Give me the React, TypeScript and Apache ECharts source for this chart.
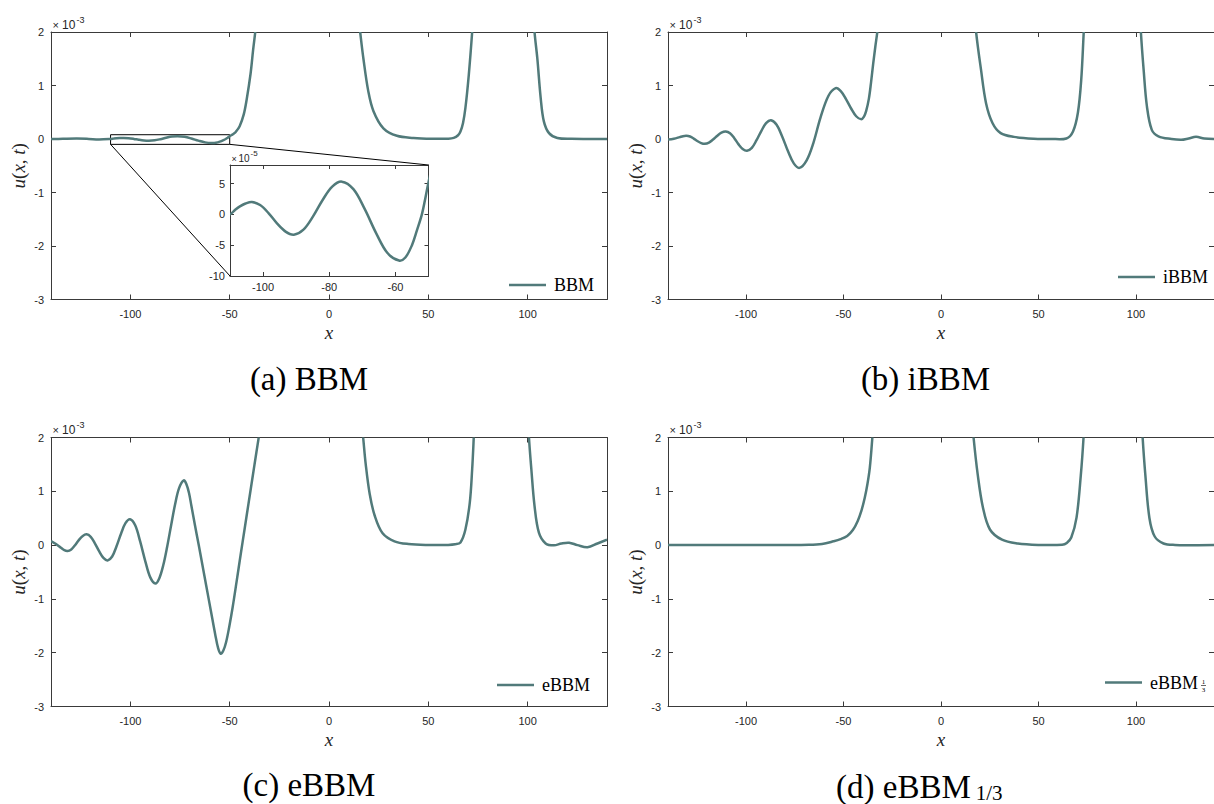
import React, { useEffect, useRef } from 'react';
import * as echarts from 'echarts';

// Solution profiles u(x,t), values in units of 1e-3
const bbmCurve: [number, number][] = [
  [-140, -0.002], [-134, 0.004], [-127, 0.009], [-121, 0.002], [-116, -0.008],
  [-110, 0], [-108.5, 0.007], [-107, 0.013], [-105.3, 0.0175], [-103.4, 0.02],
  [-100.9, 0.015], [-98.3, 0.0017], [-95.8, -0.0147], [-93.2, -0.028], [-90.7, -0.033],
  [-87.8, -0.0248], [-84.9, -0.0033], [-82, 0.0233], [-79.1, 0.0448], [-76.2, 0.053],
  [-72.7, 0.0408], [-69.3, 0.0088], [-65.8, -0.0308], [-62.4, -0.0628], [-58.9, -0.075],
  [-57, -0.07], [-55, -0.05], [-53.5, -0.026], [-52, 0], [-51, 0.025], [-50, 0.052],
  [-49, 0.075], [-48, 0.1], [-47, 0.13], [-45, 0.24], [-43, 0.45],
  [-41.5, 0.73], [-39.5, 1.22], [-38.2, 1.67], [-37, 2.05], [-35.5, 2.7], [-33, 3.9],
  [-28, 6.2], [-12, 9.6], [3, 7.6], [12, 3.4], [14.2, 2.5], [15.7, 2.0], [17.3, 1.51],
  [19.8, 0.89], [22.4, 0.52], [27.4, 0.2], [34.2, 0.06], [42.6, 0.02], [52, 0.005],
  [60, 0.006], [62.8, 0.02], [65, 0.07], [66.2, 0.14], [67.5, 0.3], [68.7, 0.58],
  [70.4, 1.2], [72.1, 2.0], [73.5, 2.8], [79, 5.6], [88, 6.6], [97, 5.2], [102.2, 2.7],
  [103.5, 2.0], [104.9, 1.51], [106.6, 0.77], [108.2, 0.33], [110.8, 0.11], [115, 0.02],
  [122, 0.003], [130, 0], [140, 0],
];

const ibbmCurve: [number, number][] = [
  [-140, -0.01], [-137, 0.005], [-134, 0.035], [-132.3, 0.053], [-130.6, 0.06],
  [-128.7, 0.046], [-126.8, 0.008], [-125, -0.038], [-123, -0.076], [-121.2, -0.09],
  [-119, -0.068], [-116.9, -0.011], [-114.7, 0.061], [-112.6, 0.118], [-110.4, 0.14],
  [-108.2, 0.106], [-106, 0.016], [-103.9, -0.096], [-101.7, -0.186], [-99.5, -0.22],
  [-97, -0.166], [-94.6, -0.023], [-92.1, 0.153], [-89.7, 0.296], [-87.2, 0.35],
  [-84.3, 0.265], [-81.4, 0.043], [-78.4, -0.233], [-75.5, -0.455], [-72.6, -0.54],
  [-68.9, -0.398], [-65.5, -0.08], [-61.8, 0.4], [-57.7, 0.808], [-54, 0.95],
  [-51.4, 0.895], [-48.8, 0.75], [-46.1, 0.57], [-43.5, 0.425], [-40.9, 0.37],
  [-39.5, 0.42], [-38.4, 0.52], [-37, 0.75], [-35.9, 1.05], [-34.8, 1.4], [-33.7, 1.72],
  [-32.5, 2.05], [-31.3, 2.5], [-26, 5.5], [-10, 9], [8, 6], [15.5, 3.0], [18, 2.0],
  [20.5, 1.3], [23.1, 0.67], [26.4, 0.3], [30.6, 0.11], [37.4, 0.04], [47.5, 0.005],
  [56, 0.002], [64.3, 0.01], [67.7, 0.14], [70.2, 0.49], [71.9, 1.1], [73.2, 2.0],
  [74.5, 2.9], [80, 5.5], [88, 6.6], [96, 5.2], [101.2, 2.9], [102.5, 2.0], [103.9, 1.3],
  [105.6, 0.61], [108.1, 0.17], [111.5, 0.05], [118.2, 0], [123.2, -0.015], [127, 0.01],
  [130.8, 0.04], [135, 0.01], [140, 0],
];

const ebbmCurve: [number, number][] = [
  [-140, 0.075], [-137.5, 0.02], [-135, -0.05], [-133.3, -0.095], [-131.7, -0.11],
  [-129.8, -0.08], [-127.9, -0.003], [-126, 0.093], [-124, 0.17], [-122.1, 0.2],
  [-120, 0.154], [-117.9, 0.033], [-115.7, -0.118], [-113.6, -0.239], [-111.5, -0.285],
  [-109.2, -0.212], [-107, -0.021], [-104.7, 0.216], [-102.5, 0.407], [-100.2, 0.48],
  [-97.6, 0.367], [-95.1, 0.068], [-92.5, -0.301], [-90, -0.6], [-87.4, -0.713],
  [-85.5, -0.62], [-83.5, -0.38], [-81.5, -0.03], [-79.5, 0.37], [-77.5, 0.76],
  [-75.5, 1.06], [-73.1, 1.205], [-71.8, 1.13], [-70.5, 0.97], [-69.3, 0.73],
  [-67.5, 0.37], [-65.6, 0], [-63.7, -0.38], [-61.8, -0.76], [-59.5, -1.22],
  [-57.3, -1.66], [-55.8, -1.92], [-54.5, -2.02], [-53.2, -1.96], [-51.8, -1.8],
  [-50.3, -1.53], [-48.5, -1.15], [-46.5, -0.67], [-44.5, -0.18], [-42.5, 0.3],
  [-40.5, 0.78], [-38.5, 1.26], [-36.5, 1.74], [-35.2, 2.05], [-34, 2.4], [-28, 5.3],
  [-12, 9], [5, 7], [14.5, 3.0], [17.2, 2.0], [18.5, 1.5],
  [20.5, 0.95], [23, 0.55], [27, 0.22], [33, 0.07], [40, 0.02], [50, 0.003], [60, 0.004],
  [63.5, 0.015], [66.2, 0.05], [68.7, 0.29], [70.9, 0.79], [72.1, 1.41], [72.9, 2.0],
  [74, 2.9], [80, 5.5], [88, 6.5], [96, 5.0], [99.8, 2.7], [100.7, 2.0], [101.9, 1.41],
  [103.5, 0.73], [105.7, 0.23], [109.1, 0.03], [113.3, -0.005], [117, 0.03],
  [120.9, 0.045], [125.1, 0], [130.2, -0.04], [135.2, 0.03], [140, 0.1],
];

const ebbm3Curve: [number, number][] = [
  [-140, 0], [-110, 0], [-80, 0.001], [-67.7, 0.005], [-61, 0.022], [-55.2, 0.07],
  [-51.5, 0.11], [-48.1, 0.17], [-45.2, 0.28], [-42.7, 0.45], [-40.8, 0.64], [-39.1, 0.88],
  [-37.7, 1.14], [-36.5, 1.44], [-35.2, 2.0], [-34, 2.6], [-28, 5.5], [-10, 9], [6, 7],
  [14.5, 2.9], [16.7, 2.0], [18.8, 1.32], [21.5, 0.7], [25.1, 0.29], [31.3, 0.1],
  [39.4, 0.03], [50, 0.004], [62.1, 0.006], [64.5, 0.04], [66.8, 0.14], [69.5, 0.51],
  [71.7, 1.3], [73.1, 2.0], [74.2, 2.8], [80, 5.5], [88, 6.5], [96, 5], [102.2, 2.8],
  [103.4, 2.0], [104.8, 1.3], [106.9, 0.5], [109.6, 0.16], [114.1, 0.03], [120, 0.004],
  [140, 0],
];

// Axis ranges and tick values
const xRange = [-140, 140];
const yRange = [-3, 2];
const xTicks = [-100, -50, 0, 50, 100];
const yTicks = [-3, -2, -1, 0, 1, 2];
const insetXRange = [-110, -50];
const insetYRange = [-10, 8]; // units of 1e-5
const insetXTicks = [-100, -80, -60];
const insetYTicks = [-10, -5, 0, 5];

const seriesNames = ['BBM', 'iBBM', 'eBBM', 'eBBM_1/3'];
const curves = [bbmCurve, ibbmCurve, ebbmCurve, ebbm3Curve];
const captions = ['(a) BBM', '(b) iBBM', '(c) eBBM', '(d) eBBM'];

const LINE = '#517a7a';
const AXIS = '#3a3a3a';
const TEXT = '#262626';
const SANS = '"Liberation Sans", Arial, Helvetica, sans-serif';
const SERIF = '"Liberation Serif", "Times New Roman", serif';

const panels = [
  { left: 51, top: 32, width: 556, height: 267.5 },
  { left: 668, top: 32, width: 555, height: 267.5 },
  { left: 51, top: 437.5, width: 556, height: 269 },
  { left: 668, top: 437.5, width: 555, height: 269 },
];
const insetBox = { left: 230, top: 165, width: 198.5, height: 111 };

const legendPos = [
  { left: 509, top: 276 },
  { left: 1118, top: 268 },
  { left: 497, top: 676 },
  { left: 1105, top: 673.5 },
];

const captionPos = [
  { x: 309, y: 379, align: 'center' },
  { x: 925.5, y: 379, align: 'center' },
  { x: 309, y: 785, align: 'center' },
  { x: 836, y: 785, align: 'left' },
];

function xAxisPair(gridIndex: number, range: number[], ticks: number[], withName: boolean, tickLen: number, labelMargin: number) {
  const line = { show: true, onZero: false, lineStyle: { color: AXIS, width: 1 } };
  return [
    {
      type: 'value', gridIndex, position: 'bottom', min: range[0], max: range[1],
      axisLine: line,
      axisTick: { show: true, inside: true, length: tickLen, customValues: ticks, lineStyle: { color: AXIS } },
      axisLabel: { show: true, customValues: ticks, margin: labelMargin, color: TEXT, fontSize: 11, fontFamily: SANS },
      splitLine: { show: false },
      name: withName ? 'x' : '', nameLocation: 'middle', nameGap: 23,
      nameTextStyle: { fontFamily: SERIF, fontStyle: 'italic', fontSize: 19, color: TEXT },
    },
    {
      type: 'value', gridIndex, position: 'top', min: range[0], max: range[1],
      axisLine: line,
      axisTick: { show: true, inside: true, length: tickLen, customValues: ticks, lineStyle: { color: AXIS } },
      axisLabel: { show: false },
      splitLine: { show: false },
    },
  ];
}

function yAxisPair(gridIndex: number, range: number[], ticks: number[], withName: boolean, tickLen: number, labelMargin: number) {
  const line = { show: true, onZero: false, lineStyle: { color: AXIS, width: 1 } };
  return [
    {
      type: 'value', gridIndex, position: 'left', min: range[0], max: range[1],
      axisLine: line,
      axisTick: { show: true, inside: true, length: tickLen, customValues: ticks, lineStyle: { color: AXIS } },
      axisLabel: { show: true, customValues: ticks, margin: labelMargin, color: TEXT, fontSize: 11, fontFamily: SANS },
      splitLine: { show: false },
      name: withName ? '{i|u}{r|(}{i|x}{r|, }{i|t}{r|)}' : '', nameLocation: 'middle', nameGap: 23,
      nameTextStyle: {
        color: TEXT,
        rich: {
          i: { fontFamily: SERIF, fontStyle: 'italic', fontSize: 19, color: TEXT },
          r: { fontFamily: SERIF, fontSize: 19, color: TEXT },
        },
      },
    },
    {
      type: 'value', gridIndex, position: 'right', min: range[0], max: range[1],
      axisLine: line,
      axisTick: { show: true, inside: true, length: tickLen, customValues: ticks, lineStyle: { color: AXIS } },
      axisLabel: { show: false },
      splitLine: { show: false },
    },
  ];
}

// One smooth curve per series: the whole profile is drawn as a single
// spline through the data points, mapped with the series' own axes.
function curveSeries(name: string, data: number[][], axisIndex: number) {
  return {
    type: 'custom',
    name,
    coordinateSystem: 'cartesian2d',
    xAxisIndex: axisIndex,
    yAxisIndex: axisIndex,
    data,
    encode: { x: 0, y: 1 },
    clip: true,
    silent: true,
    itemStyle: { color: LINE },
    z: 3,
    renderItem: (params: any, api: any) => {
      if (params.dataIndex !== 0) return null;
      const points = data.map((d) => api.coord([d[0], d[1]]));
      return {
        type: 'polyline',
        shape: { points, smooth: 0.35 },
        style: { stroke: LINE, lineWidth: 2.5, fill: null, lineJoin: 'round' },
      };
    },
  };
}

function buildOption() {
  const grid: any[] = panels.map((p) => ({ ...p, containLabel: false }));
  grid.push({ ...insetBox, containLabel: false });

  const xAxis: any[] = [];
  const yAxis: any[] = [];
  panels.forEach((_, i) => {
    xAxis.push(...xAxisPair(i, xRange, xTicks, true, 5, 9));
    yAxis.push(...yAxisPair(i, yRange, yTicks, true, 5, 7));
  });
  xAxis.push(...xAxisPair(4, insetXRange, insetXTicks, false, 4, 5));
  yAxis.push(...yAxisPair(4, insetYRange, insetYTicks, false, 4, 5));

  const series: any[] = curves.map((data, i) => curveSeries(seriesNames[i], data, i * 2));

  // zoom rectangle around the small-amplitude tail of the BBM profile
  series.push({
    type: 'line',
    name: 'BBM-zoom',
    xAxisIndex: 0,
    yAxisIndex: 0,
    data: [],
    markArea: {
      silent: true,
      itemStyle: { color: 'rgba(0,0,0,0)', borderColor: '#000', borderWidth: 1 },
      label: { show: false },
      data: [[
        { coord: [insetXRange[0], insetYRange[1] / 100] },
        { coord: [insetXRange[1], insetYRange[0] / 100] },
      ]],
    },
  });

  // magnified tail, rescaled from 1e-3 to 1e-5 units
  const insetData = bbmCurve
    .filter(([x]) => x >= -116 && x <= -47)
    .map(([x, y]) => [x, y * 100]);
  series.push(curveSeries('BBM-inset', insetData, 8));

  const legend = seriesNames.map((name, i) => ({
    data: [name],
    ...legendPos[i],
    orient: 'horizontal',
    padding: 0,
    itemWidth: 37,
    itemHeight: 2.5,
    icon: 'rect',
    selectedMode: false,
    formatter: (n: string) => (n === 'eBBM_1/3' ? 'eBBM' : n),
    textStyle: { fontFamily: SERIF, fontSize: 18, lineHeight: 18, color: '#000', padding: [0, 0, 0, 3] },
  }));

  return {
    animation: false,
    backgroundColor: '#fff',
    textStyle: { color: TEXT },
    grid,
    xAxis,
    yAxis,
    series,
    legend,
  };
}

function exponentLabel(x: number, y: number, exp: string, big: number, small: number, tenGap: number) {
  return [
    { type: 'text', x, y, style: { text: '×', fill: TEXT, font: `${big - 1}px ${SANS}`, textAlign: 'left', textVerticalAlign: 'middle' } },
    { type: 'text', x: x + tenGap, y, style: { text: '10', fill: TEXT, font: `${big}px ${SANS}`, textAlign: 'left', textVerticalAlign: 'middle' } },
    { type: 'text', x: x + tenGap + big * 1.2, y: y - 5, style: { text: exp, fill: TEXT, font: `${small}px ${SANS}`, textAlign: 'left', textVerticalAlign: 'middle' } },
  ];
}

function buildGraphics(chart: echarts.ECharts) {
  const g: any[] = [];

  // exponent markers above each y axis
  panels.forEach((p) => {
    g.push(...exponentLabel(p.left + 1.5, p.top - 7.5, '-3', 12, 9, 9.5));
  });
  g.push(...exponentLabel(insetBox.left + 1.5, insetBox.top - 6.5, '-5', 10, 8, 7));

  // connectors from the zoom rectangle to the inset axes
  const rectBL = chart.convertToPixel({ xAxisIndex: 0, yAxisIndex: 0 }, [insetXRange[0], insetYRange[0] / 100]);
  const rectBR = chart.convertToPixel({ xAxisIndex: 0, yAxisIndex: 0 }, [insetXRange[1], insetYRange[0] / 100]);
  const insBL = chart.convertToPixel({ xAxisIndex: 8, yAxisIndex: 8 }, [insetXRange[0], insetYRange[0]]);
  const insTR = chart.convertToPixel({ xAxisIndex: 8, yAxisIndex: 8 }, [insetXRange[1], insetYRange[1]]);
  if (rectBL && insBL) {
    g.push({ type: 'line', shape: { x1: rectBL[0], y1: rectBL[1], x2: insBL[0], y2: insBL[1] }, style: { stroke: '#000', lineWidth: 1 }, z: 10 });
  }
  if (rectBR && insTR) {
    g.push({ type: 'line', shape: { x1: rectBR[0], y1: rectBR[1], x2: insTR[0], y2: insTR[1] }, style: { stroke: '#000', lineWidth: 1 }, z: 10 });
  }

  // subfigure captions
  captions.forEach((c, i) => {
    const pos = captionPos[i];
    if (i === 3) {
      g.push({
        type: 'text', x: pos.x, y: pos.y,
        style: {
          text: '{m|' + c + '}{s|1/3}',
          textAlign: pos.align, textVerticalAlign: 'middle',
          rich: {
            m: { font: `33px ${SERIF}`, fill: '#000', lineHeight: 36, verticalAlign: 'bottom' },
            s: { font: `21px ${SERIF}`, fill: '#000', lineHeight: 20, verticalAlign: 'bottom', padding: [0, 0, 0, 5] },
          },
        },
      });
    } else {
      g.push({
        type: 'text', x: pos.x, y: pos.y,
        style: { text: c, fill: '#000', font: `33px ${SERIF}`, textAlign: pos.align, textVerticalAlign: 'middle' },
      });
    }
  });

  // stacked 1/3 subscript of the eBBM_1/3 legend entry
  g.push({ type: 'text', x: 1203.5, y: 681.5, style: { text: '1', fill: '#000', font: `7px ${SERIF}`, textAlign: 'center', textVerticalAlign: 'middle' } });
  g.push({ type: 'line', shape: { x1: 1201, y1: 685.5, x2: 1206, y2: 685.5 }, style: { stroke: '#000', lineWidth: 0.6 } });
  g.push({ type: 'text', x: 1203.5, y: 690, style: { text: '3', fill: '#000', font: `7px ${SERIF}`, textAlign: 'center', textVerticalAlign: 'middle' } });

  return g;
}

export default function App() {
  const ref = useRef<HTMLDivElement>(null);
  useEffect(() => {
    if (!ref.current) return;
    const chart = echarts.init(ref.current, null, { renderer: 'svg' });
    chart.setOption(buildOption());
    chart.setOption({ graphic: buildGraphics(chart) });
    return () => chart.dispose();
  }, []);
  return (
    <div
      ref={ref}
      style={{ position: 'fixed', left: 0, top: 0, width: 1214, height: 804, background: '#fff' }}
    />
  );
}
